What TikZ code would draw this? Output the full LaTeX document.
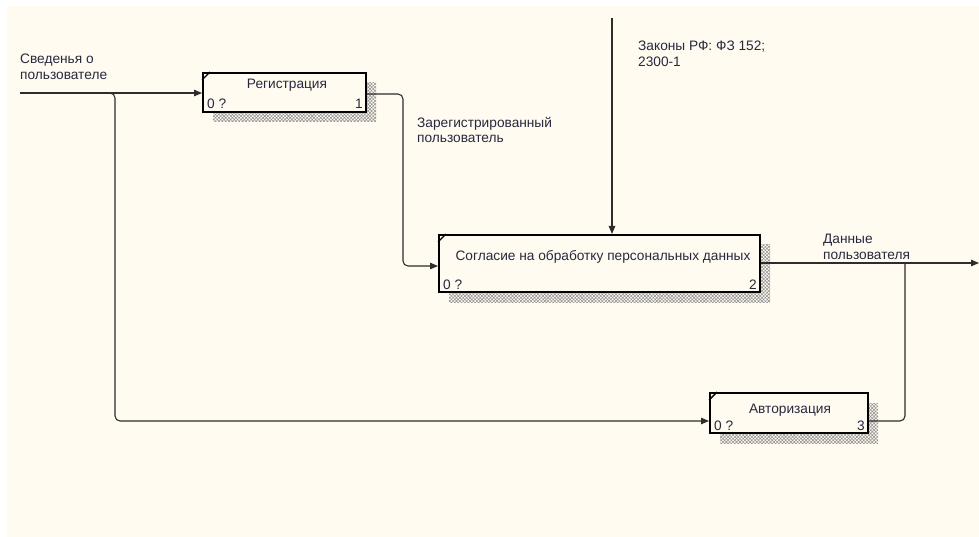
\documentclass[tikz,border=0pt]{standalone}
\usepackage{fontspec}
\setmainfont{Liberation Sans}
\usetikzlibrary{arrows.meta,patterns.meta,shadows,calc}
\definecolor{cream}{RGB}{255,251,240}
\definecolor{txt}{RGB}{40,40,62}
\definecolor{wire}{RGB}{45,45,45}
\begin{document}
\begin{tikzpicture}[x=1pt,y=-1pt,
  every node/.style={text=txt, font=\fontsize{13.7}{15.5}\selectfont, inner sep=0pt},
  fbox/.style={draw=black, line width=2pt, fill=cream, rectangle,
    general shadow={shadow xshift=10pt, shadow yshift=-10pt, draw=none,
      pattern={Hatch[angle=45,distance=2.4pt,line width=0.55pt]}, pattern color=gray!85}},
  lbl/.style={align=left, anchor=north west},
  wireline/.style={draw=wire, line width=1.1pt, rounded corners=5pt},
  arr/.style={wireline, -{Triangle[length=8pt,width=6.5pt]}},
  corner/.style={line width=1.4pt, draw=black}
]
\useasboundingbox (0,0) rectangle (979,537);
\fill[white] (0,0) rectangle (979,537);
\fill[cream] (7,6) rectangle (979,537);

% boxes
\node[fbox, minimum width=163, minimum height=39] (b1) at (284.5,92.5) {};
\node[fbox, minimum width=321, minimum height=57] (b2) at (599.5,263.5) {};
\node[fbox, minimum width=158, minimum height=40] (b3) at (789,413) {};

% corner marks
\foreach \b in {b1,b2,b3}{
  \draw[corner] ($(\b.north west)+(0,8)$) -- ($(\b.north west)+(8,0)$);
  \node[anchor=base west] (\b zero) at ($(\b.south west)+(5,-4)$) {0 ?};
}
\node[anchor=base east] (b1n) at ($(b1.south east)+(-4,-4)$) {1};
\node[anchor=base east] (b2n) at ($(b2.south east)+(-4,-4)$) {2};
\node[anchor=base east] (b3n) at ($(b3.south east)+(-4,-4)$) {3};

% titles
\node (t1) at (287,85) {Регистрация};
\node (t2) at (603,257) {Согласие на обработку персональных данных};
\node (t3) at (790,410) {Авторизация};

% free ends
\coordinate (in1) at (20,93);
\coordinate (br) at (108,93);
\coordinate (ctl) at (612,18);
\coordinate (out) at (979,263);
\coordinate (j) at (905,263);

% connectors
\draw[arr] (in1) -- (b1.west |- in1);
\draw[arr] (br) -- (115,93) -- (115,421) -- (b3.west |- 0,421);
\draw[arr] (b1.east |- 0,94) -- (403,94) -- (403,266) -- (b2.west |- 0,266);
\draw[arr] (ctl) -- (b2.north -| ctl);
\draw[arr] (b2.east |- out) -- (out);
\draw[wireline] (b3.east |- 0,421) -- (905,421) -- (j);

% labels
\node[lbl] (l1) at (20,54) {Сведенья о\\пользователе};
\node[lbl] (l2) at (417,117) {Зарегистрированный\\пользователь};
\node[lbl] (l3) at (638,41) {Законы РФ: ФЗ 152;\\2300-1};
\node[lbl] (l4) at (823,234) {Данные\\пользователя};
\end{tikzpicture}
\end{document}
